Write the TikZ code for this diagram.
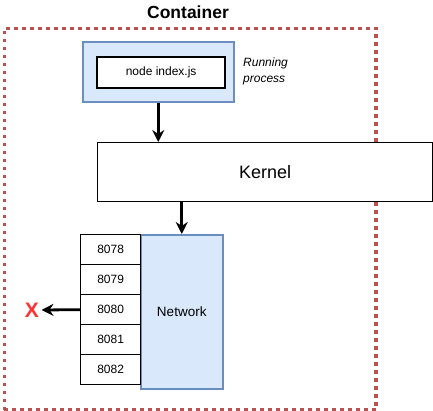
\documentclass[tikz,border=0pt]{standalone}
\usepackage{fontspec}
\setmainfont{Liberation Sans}
\usetikzlibrary{arrows.meta}
\definecolor{bluefill}{HTML}{DAE8FC}
\definecolor{bluestroke}{HTML}{6C8EBF}
\definecolor{dotred}{HTML}{B85450}
\definecolor{xred}{HTML}{FF3333}
\tikzset{
  box/.style={draw=black, fill=white, line width=1.3pt, inner sep=0pt, anchor=north west},
  bluebox/.style={draw=bluestroke, fill=bluefill, line width=1.5pt, inner sep=0pt, anchor=north west},
  portbox/.style={box, minimum width=60pt, minimum height=30pt, font=\fontsize{12}{14}\selectfont},
  conn/.style={draw=black, line width=2.8pt, -{Stealth[length=12pt,width=12pt,inset=4pt]}},
}
\begin{document}
\begin{tikzpicture}[x=1pt,y=-1pt]
\useasboundingbox (0,0) rectangle (433,410);
% container
\node[draw=dotred, line width=3.5pt, dash pattern=on 3.5pt off 4.5pt, inner sep=0pt, anchor=north west,
      minimum width=371.8pt, minimum height=381.8pt] (container) at (2.5,26.5) {};
\node[font=\bfseries\fontsize{17.5}{20}\selectfont, inner sep=0pt] (title) at (188,12) {Container};
% running process
\node[bluebox, minimum width=151pt, minimum height=60pt] (rp) at (82,41) {};
\node[box, line width=2.3pt, minimum width=128pt, minimum height=31pt, font=\fontsize{12}{14}\selectfont] (proc) at (96,56) {node index.js};
\node[anchor=west, align=left, inner sep=0pt, font=\itshape\fontsize{12}{16}\selectfont] (rplabel) at (243,71.5) {Running\\process};
% kernel
\node[box, minimum width=335pt, minimum height=59pt, font=\fontsize{18}{20}\selectfont] (kernel) at (97,142) {Kernel};
% network
\node[bluebox, minimum width=82pt, minimum height=154pt, font=\fontsize{13.5}{16}\selectfont] (net) at (140,234) {Network};
\node[portbox] (p8078) at (80,234) {8078};
\node[portbox] (p8079) at (80,264) {8079};
\node[portbox] (p8080) at (80,294) {8080};
\node[portbox] (p8081) at (80,324) {8081};
\node[portbox] (p8082) at (80,354) {8082};
% X mark
\node[text=xred, font=\bfseries\fontsize{21}{22}\selectfont, inner sep=0pt, outer sep=2.5pt] (xmark) at (32,310) {X};
% connectors
\draw[conn] (rp.south) -- (rp.south |- kernel.north);
\draw[conn] (net.north |- kernel.south) -- (net.north);
\draw[conn] (p8080.west) -- (xmark.east);
\end{tikzpicture}
\end{document}
